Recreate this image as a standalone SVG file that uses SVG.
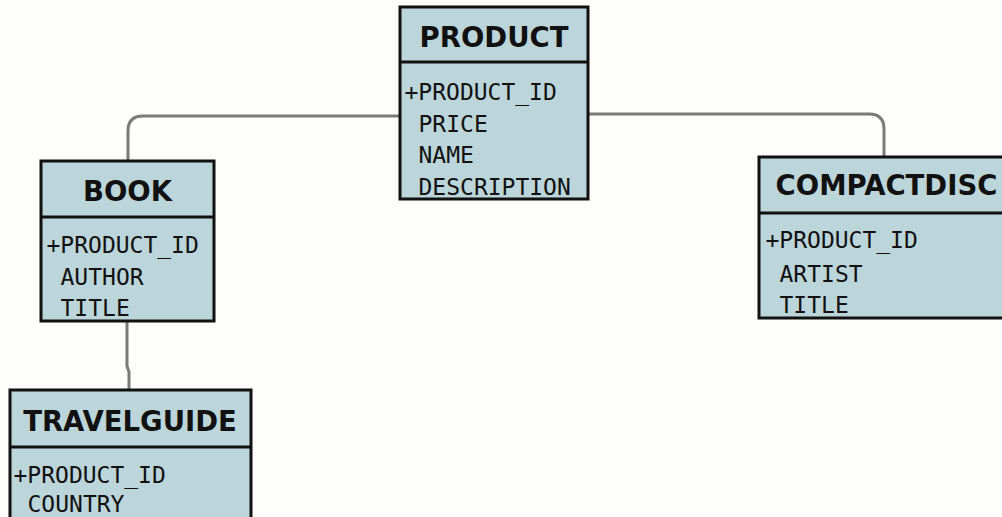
<svg xmlns="http://www.w3.org/2000/svg" width="1002" height="517" viewBox="0 0 1002 517">
<style>
.bg{fill:#fdfdfb}
.box{fill:#bcd5da;stroke:none}
.frame{fill:none;stroke:#111;stroke-width:3}
.div{stroke:#111;stroke-width:3}
.title{font-family:"DejaVu Sans",sans-serif;font-weight:bold;font-size:27.5px;fill:#111;text-anchor:middle}
.attr{font-family:"DejaVu Sans Mono",monospace;font-size:23px;fill:#111}
.conn{fill:none;stroke:#7a7a7a;stroke-width:3}
</style>
<rect class="bg" x="0" y="0" width="1002" height="517"/>
<g id="connectors">
<path class="conn" d="M400,116 H143 Q128,116 128,131 V161"/>
<path class="conn" d="M588,114 H869 Q884,114 884,129 V157"/>
<path class="conn" d="M127,321 V366 L129,372 V390"/>
</g>
<g id="product">
<rect class="box" x="400" y="7" width="188" height="192"/>
<text class="title" x="494" y="47">PRODUCT</text>
<text class="attr" x="404.5" y="100">+PRODUCT_ID</text>
<text class="attr" x="418.5" y="132">PRICE</text>
<text class="attr" x="418.5" y="163">NAME</text>
<text class="attr" x="418.5" y="195">DESCRIPTION</text>
<line class="div" x1="400" y1="62" x2="588" y2="62"/>
<rect class="frame" x="400" y="7" width="188" height="192"/>
</g>
<g id="book">
<rect class="box" x="41" y="161" width="173" height="160"/>
<text class="title" x="127.5" y="201">BOOK</text>
<text class="attr" x="46.5" y="253">+PRODUCT_ID</text>
<text class="attr" x="60.5" y="285">AUTHOR</text>
<text class="attr" x="60.5" y="316">TITLE</text>
<line class="div" x1="41" y1="217" x2="214" y2="217"/>
<rect class="frame" x="41" y="161" width="173" height="160"/>
</g>
<g id="compactdisc">
<rect class="box" x="759" y="157" width="255" height="161"/>
<text class="title" x="886.5" y="195">COMPACTDISC</text>
<text class="attr" x="765.5" y="248">+PRODUCT_ID</text>
<text class="attr" x="779.5" y="282">ARTIST</text>
<text class="attr" x="779.5" y="313">TITLE</text>
<line class="div" x1="759" y1="213" x2="1014" y2="213"/>
<rect class="frame" x="759" y="157" width="255" height="161"/>
</g>
<g id="travelguide">
<rect class="box" x="10" y="390" width="241" height="140"/>
<text class="title" x="130" y="431">TRAVELGUIDE</text>
<text class="attr" x="13.5" y="483">+PRODUCT_ID</text>
<text class="attr" x="27.5" y="512">COUNTRY</text>
<line class="div" x1="10" y1="447" x2="251" y2="447"/>
<rect class="frame" x="10" y="390" width="241" height="140"/>
</g>
</svg>
